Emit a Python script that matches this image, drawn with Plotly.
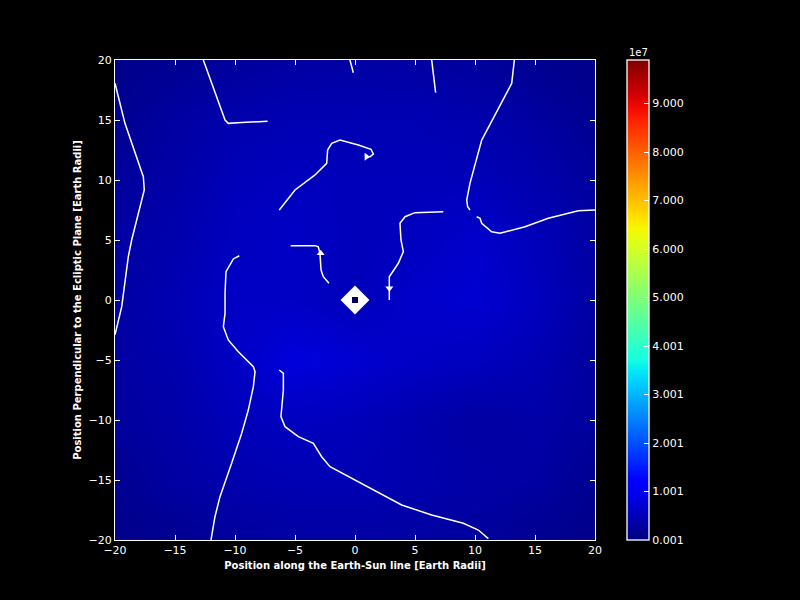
import numpy as np
import plotly.graph_objects as go

# ---- data ----
grid_x = [-20, -15, -10, -5, 0, 5, 10, 15, 20]
grid_y = [-20, -15, -10, -5, 0, 5, 10, 15, 20]
# field values in units of 1e6 (rows follow grid_y from -20 to 20)
field_1e6 = [
    [0.8, 1.5, 2.5, 3.0, 3.0, 3.0, 2.5, 1.5, 0.8],
    [1.5, 3.0, 4.0, 4.5, 4.5, 4.0, 3.5, 3.0, 1.5],
    [2.5, 3.5, 5.0, 5.5, 5.0, 4.0, 3.0, 3.5, 2.5],
    [3.0, 4.0, 6.0, 8.0, 7.0, 6.0, 5.5, 4.5, 2.5],
    [3.0, 4.5, 6.0, 6.0, 5.0, 6.5, 7.0, 5.5, 3.0],
    [3.0, 4.0, 5.5, 6.0, 5.0, 5.5, 6.5, 5.0, 3.0],
    [2.5, 3.5, 5.0, 5.5, 5.0, 5.0, 5.0, 4.0, 2.5],
    [1.5, 3.0, 4.0, 4.5, 4.5, 4.5, 4.0, 3.0, 1.5],
    [0.8, 1.5, 2.5, 3.0, 3.2, 3.0, 2.5, 1.5, 0.8],
]
z_min = 1e4
z_max = 9.9e7

cbar_tickvals = [1e4 + k * 1e7 for k in range(10)]
cbar_ticktext = ["0.001", "1.001", "2.001", "3.001", "4.001",
                 "5.000", "6.000", "7.000", "8.000", "9.000"]

# streamlines (x, y) in Earth radii
stream_lines = {
    "A": ([-20.0, -19.17, -17.64, -17.56, -18.61, -18.89, -19.44, -19.86, -20.0],
          [18.06, 14.72, 10.28, 9.17, 5.0, 3.61, -0.56, -2.5, -2.9]),
    "B": ([-12.64, -10.83, -10.56, -9.44, -7.28],
          [20.0, 15.0, 14.72, 14.8, 14.89]),
    "C": ([-0.42, -0.14], [20.0, 18.94]),
    "D": ([6.39, 6.72], [20.0, 17.28]),
    "E": ([13.28, 13.06, 10.56, 9.58, 9.31, 9.39, 9.58],
          [20.0, 18.06, 13.33, 9.72, 8.33, 7.78, 7.5]),
    "F": ([10.14, 10.42, 10.56, 11.39, 12.08, 14.17, 16.11, 18.61, 20.0],
          [6.94, 6.81, 6.39, 5.69, 5.56, 6.11, 6.81, 7.44, 7.5]),
    "G": ([-6.31, -5.0, -3.33, -2.36, -2.28, -1.94, -1.25, 0.28, 1.33, 1.53, 1.25, 0.83],
          [7.5, 9.17, 10.42, 11.39, 12.5, 13.06, 13.33, 12.92, 12.56, 12.17, 11.94, 11.94]),
    "H": ([-5.36, -3.33, -3.06, -2.92, -2.83, -2.64, -2.17],
          [4.53, 4.53, 4.44, 3.89, 2.5, 1.94, 1.39]),
    "I": ([7.36, 5.0, 4.17, 3.75, 3.83, 4.03, 3.61, 3.06, 2.86, 2.86, 2.86],
          [7.36, 7.28, 6.94, 6.39, 5.0, 4.03, 3.06, 2.22, 1.94, 0.56, 0.0]),
    "J": ([-9.64, -10.14, -10.42, -10.75, -10.83, -10.83, -10.97, -10.56, -9.72, -8.47, -8.33,
           -8.47, -8.89, -9.44, -10.28, -11.25, -11.67, -12.0],
          [3.69, 3.42, 2.92, 2.36, 0.56, -1.11, -2.22, -3.33, -4.31, -5.56, -5.97,
           -7.22, -9.17, -11.11, -13.61, -16.39, -18.06, -20.0]),
    "K": ([-6.31, -5.97, -5.97, -6.17, -5.83, -4.72, -3.47, -2.78, -2.08, 0.83, 3.89, 6.39,
           9.03, 10.28, 11.11],
          [-5.83, -6.11, -7.5, -9.72, -10.56, -11.39, -11.94, -13.06, -13.89, -15.42, -17.08,
           -17.92, -18.61, -19.17, -19.89]),
}
arrow_x = [0.95, -2.86, 2.86]
arrow_y = [11.94, 3.9, 0.97]
arrow_symbol = ["triangle-right", "triangle-up", "triangle-down"]

earth_x = [0]
earth_y = [0]


# matplotlib jet colorscale
def jet(t):
    def interp(pts, t):
        xs = [p[0] for p in pts]
        ys = [p[1] for p in pts]
        return float(np.interp(t, xs, ys))
    r = interp([(0, 0), (0.35, 0), (0.66, 1), (0.89, 1), (1, 0.5)], t)
    g = interp([(0, 0), (0.125, 0), (0.375, 1), (0.64, 1), (0.91, 0), (1, 0)], t)
    b = interp([(0, 0.5), (0.11, 1), (0.34, 1), (0.65, 0), (1, 0)], t)
    return "rgb(%d,%d,%d)" % (round(r * 255), round(g * 255), round(b * 255))


jet_scale = [[t, jet(t)] for t in np.linspace(0, 1, 41)]

z = np.array(field_1e6) * 1e6

fig = go.Figure()
fig.add_trace(go.Heatmap(
    x=grid_x, y=grid_y, z=z, zmin=z_min, zmax=z_max, zsmooth="best",
    colorscale=jet_scale, showscale=True,
    colorbar=dict(
        x=(627 - 115) / 480, xanchor="left", xref="paper",
        y=0.5, yanchor="middle", len=1.0, lenmode="fraction",
        thickness=22, outlinecolor="white", outlinewidth=1.3,
        tickvals=cbar_tickvals, ticktext=cbar_ticktext,
        ticks="inside", ticklen=5, tickcolor="white",
        tickfont=dict(color="white", size=11, family="DejaVu Sans"),
        xpad=0, ypad=0,
    ),
    hoverinfo="skip",
))

for name, (xs, ys) in stream_lines.items():
    fig.add_trace(go.Scatter(x=xs, y=ys, mode="lines",
                             line=dict(color="white", width=1.5),
                             showlegend=False, hoverinfo="skip"))

fig.add_trace(go.Scatter(x=arrow_x, y=arrow_y, mode="markers",
                         marker=dict(symbol=arrow_symbol, size=7, color="white"),
                         showlegend=False, hoverinfo="skip"))

fig.add_trace(go.Scatter(x=earth_x, y=earth_y, mode="markers",
                         marker=dict(symbol="diamond", size=19, color="white",
                                     line=dict(width=3, color="white")),
                         showlegend=False, hoverinfo="skip"))
fig.add_trace(go.Scatter(x=earth_x, y=earth_y, mode="markers",
                         marker=dict(symbol="square", size=6, color="#000060"),
                         showlegend=False, hoverinfo="skip"))

axis_common = dict(
    range=[-20, 20], tickvals=[-20, -15, -10, -5, 0, 5, 10, 15, 20],
    ticktext=["\u221220", "\u221215", "\u221210", "\u22125", "0", "5", "10", "15", "20"],
    ticks="inside", ticklen=5, tickcolor="white", showline=True, linecolor="white",
    linewidth=1, mirror="ticks", showgrid=False, zeroline=False,
    tickfont=dict(color="white", size=11, family="DejaVu Sans"),
)

fig.add_annotation(text="1e7", x=(627 - 115) / 480, y=1.0, xref="paper", yref="paper",
                   xanchor="left", yanchor="bottom", showarrow=False, yshift=0,
                   font=dict(color="white", size=10, family="DejaVu Sans"))

fig.update_layout(
    width=800, height=600,
    margin=dict(l=115, r=205, t=60, b=60),
    paper_bgcolor="black", plot_bgcolor="black",
    xaxis=dict(axis_common, title=dict(
        text="<b>Position along the Earth-Sun line [Earth Radii]</b>",
        font=dict(color="white", size=10, family="DejaVu Sans"), standoff=5)),
    yaxis=dict(axis_common, title=dict(
        text="<b>Position Perpendicular to the Ecliptic Plane [Earth Radii]</b>",
        font=dict(color="white", size=10, family="DejaVu Sans"), standoff=5)),
    showlegend=False,
)

fig.write_html("out.html")
